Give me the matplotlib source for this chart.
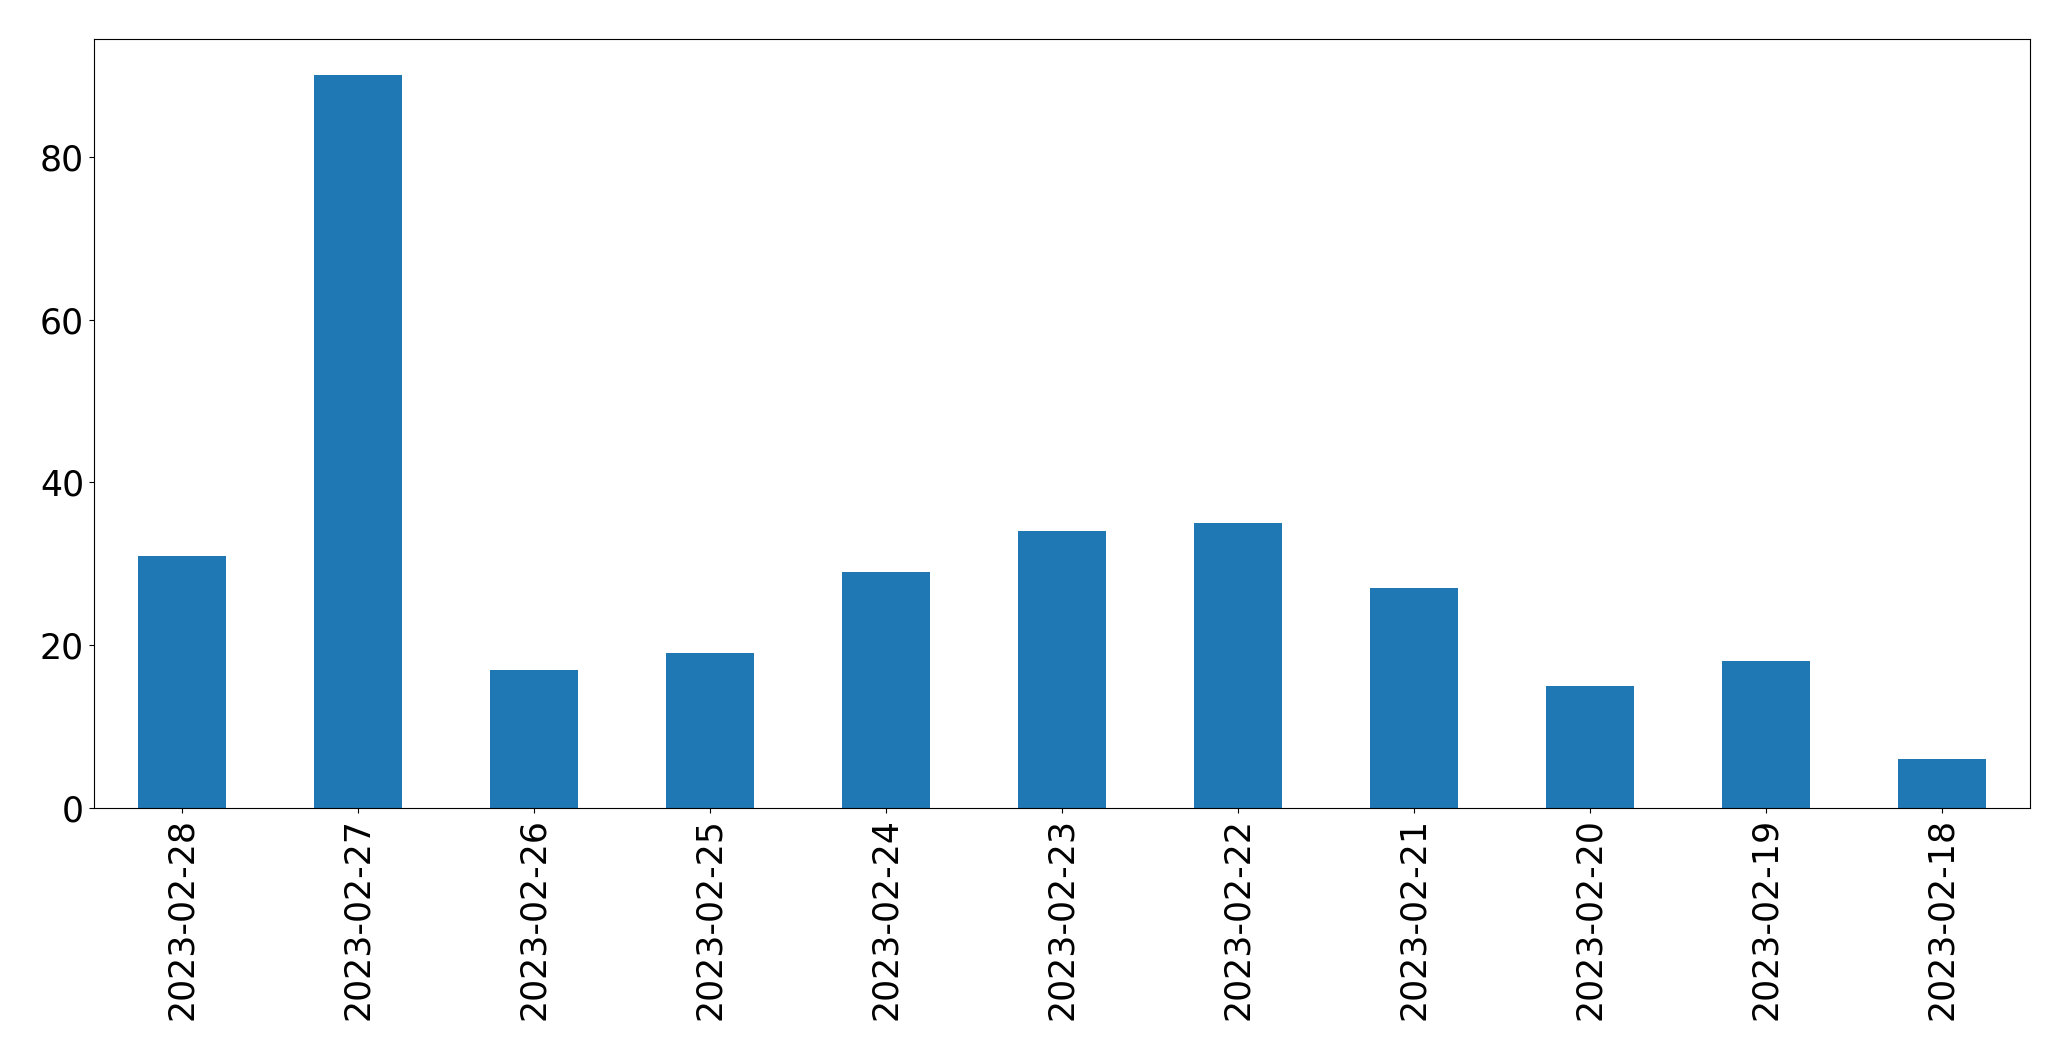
import matplotlib
matplotlib.use("Agg")
import matplotlib.pyplot as plt

# Daily counts (most recent first)
dates = ["2023-02-28", "2023-02-27", "2023-02-26", "2023-02-25", "2023-02-24",
         "2023-02-23", "2023-02-22", "2023-02-21", "2023-02-20", "2023-02-19",
         "2023-02-18"]
counts = [31, 90, 17, 19, 29, 34, 35, 27, 15, 18, 6]

fig, ax = plt.subplots(figsize=(20.71, 10.61), dpi=100)
positions = list(range(len(dates)))
ax.bar(positions, counts, width=0.5, color="#1f77b4")

ax.set_xticks(positions)
ax.set_xticklabels(dates, rotation=90)
ax.set_xlim(-0.5, len(dates) - 0.5)
ax.set_ylim(0, max(counts) * 1.05)
ax.tick_params(axis="both", labelsize=25)

plt.subplots_adjust(left=0.0453, right=0.980, top=0.9635, bottom=0.2385)
plt.savefig("out.png", dpi=100)
